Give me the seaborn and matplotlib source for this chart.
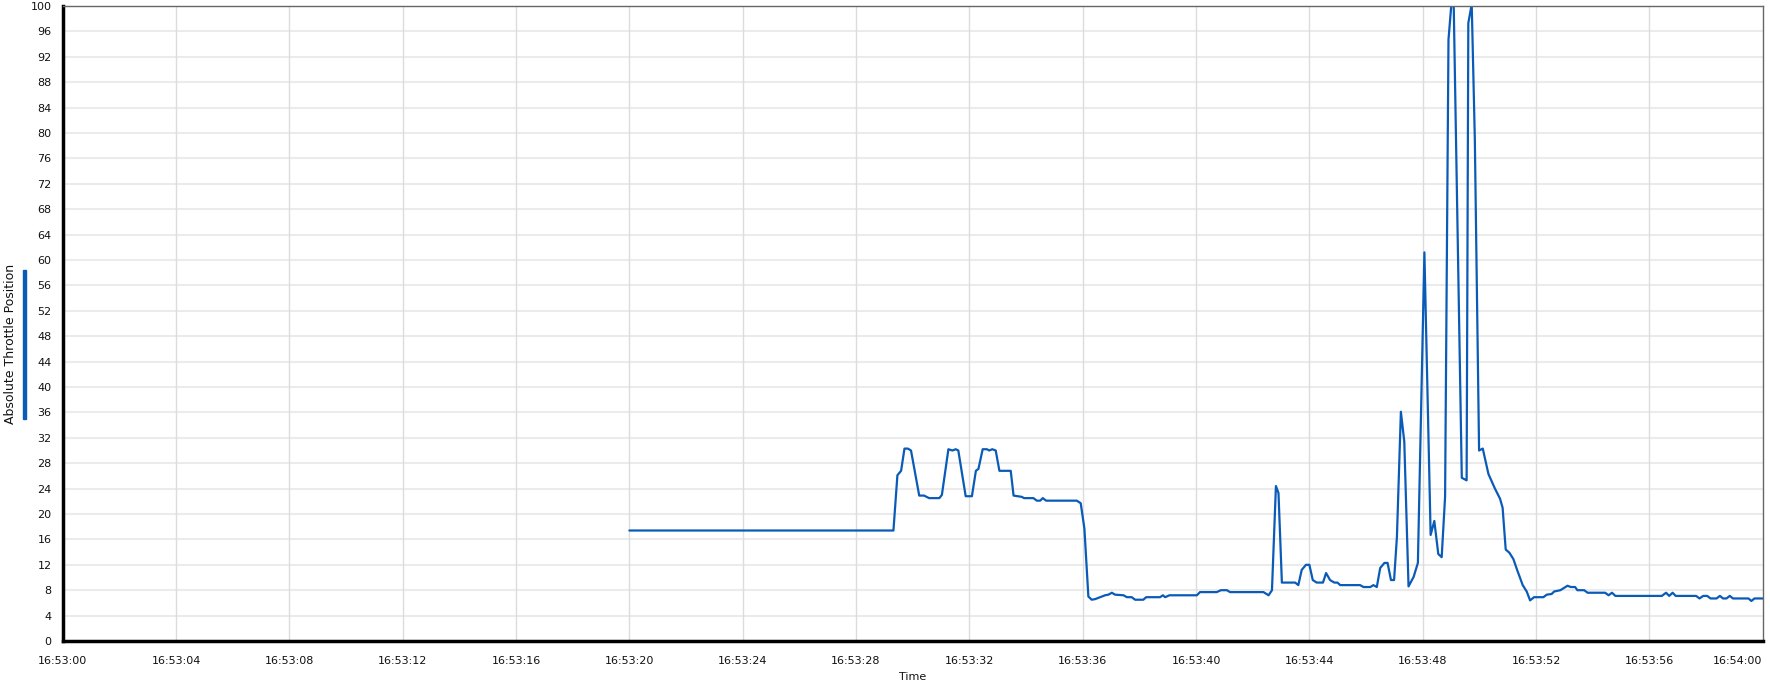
import matplotlib
matplotlib.use("Agg")
import matplotlib.pyplot as plt
import seaborn as sns
import pandas as pd
from matplotlib.patches import Rectangle

# ---- data (seconds after 16:53:00, throttle %) ----
seconds = [
    20.00, 29.32, 29.46, 29.59, 29.71, 29.83, 29.94, 30.23, 30.40, 30.58, 30.94, 31.03,
    31.26, 31.40, 31.52, 31.61, 31.87, 32.09, 32.23, 32.32, 32.47, 32.62, 32.70, 32.81,
    32.93, 33.06, 33.46, 33.56, 33.85, 33.93, 34.26, 34.38, 34.50, 34.59, 34.71, 35.79,
    35.93, 36.06, 36.20, 36.32, 36.44, 36.61, 36.79, 36.91, 37.03, 37.14, 37.44, 37.56,
    37.73, 37.85, 38.14, 38.24, 38.73, 38.83, 38.91, 39.06, 40.03, 40.14, 40.73, 40.88,
    41.09, 41.20, 42.38, 42.56, 42.68, 42.82, 42.91, 43.03, 43.50, 43.61, 43.73, 43.88,
    44.00, 44.12, 44.26, 44.48, 44.59, 44.73, 44.88, 44.99, 45.09, 45.79, 45.91, 46.15,
    46.26, 46.38, 46.50, 46.65, 46.76, 46.88, 46.99, 47.09, 47.23, 47.35, 47.50, 47.68,
    47.83, 48.06, 48.28, 48.41, 48.55, 48.67, 48.79, 48.91, 49.08, 49.38, 49.55, 49.61,
    49.73, 49.84, 49.99, 50.12, 50.32, 50.55, 50.73, 50.82, 50.93, 51.06, 51.20, 51.34,
    51.53, 51.67, 51.79, 51.93, 52.26, 52.38, 52.55, 52.64, 52.86, 53.11, 53.23, 53.38,
    53.46, 53.70, 53.82, 54.44, 54.56, 54.68, 54.80, 56.44, 56.59, 56.70, 56.82, 56.93,
    57.65, 57.77, 57.90, 58.04, 58.16, 58.37, 58.49, 58.60, 58.72, 58.84, 58.95, 59.50,
    59.60, 59.71, 60.00,
]
throttle = [
    17.4, 17.4, 26.1, 26.8, 30.3, 30.3, 30.0, 22.9, 22.9, 22.5, 22.5, 23.0,
    30.2, 30.0, 30.2, 30.0, 22.8, 22.8, 26.8, 27.1, 30.2, 30.2, 30.0, 30.2,
    30.0, 26.8, 26.8, 22.9, 22.7, 22.5, 22.5, 22.1, 22.1, 22.5, 22.1, 22.1,
    21.7, 17.7, 7.0, 6.5, 6.6, 6.9, 7.2, 7.3, 7.6, 7.3, 7.2, 6.9,
    6.9, 6.5, 6.5, 6.9, 6.9, 7.2, 6.9, 7.2, 7.2, 7.7, 7.7, 8.0,
    8.0, 7.7, 7.7, 7.2, 8.0, 24.4, 23.3, 9.2, 9.2, 8.8, 11.2, 12.0,
    12.0, 9.6, 9.2, 9.2, 10.7, 9.6, 9.2, 9.2, 8.8, 8.8, 8.5, 8.5,
    8.8, 8.5, 11.5, 12.3, 12.3, 9.6, 9.6, 16.4, 36.1, 31.4, 8.6, 10.1,
    12.3, 61.2, 16.7, 18.9, 13.7, 13.2, 22.7, 94.7, 104.0, 25.7, 25.3, 97.3,
    100.3, 79.0, 30.0, 30.3, 26.3, 24.0, 22.4, 21.0, 14.4, 13.9, 12.9, 11.1,
    8.8, 7.8, 6.4, 6.9, 6.9, 7.3, 7.4, 7.8, 8.0, 8.7, 8.5, 8.5,
    8.0, 8.0, 7.6, 7.6, 7.2, 7.6, 7.1, 7.1, 7.6, 7.1, 7.6, 7.1,
    7.1, 6.7, 7.1, 7.1, 6.7, 6.7, 7.1, 6.7, 6.7, 7.1, 6.7, 6.7,
    6.3, 6.7, 6.7,
]
xtick_pos = [0, 4, 8, 12, 16, 20, 24, 28, 32, 36, 40, 44, 48, 52, 56, 60]
xtick_labels = ["16:53:00", "16:53:04", "16:53:08", "16:53:12", "16:53:16", "16:53:20",
                "16:53:24", "16:53:28", "16:53:32", "16:53:36", "16:53:40", "16:53:44",
                "16:53:48", "16:53:52", "16:53:56", "16:54:00"]
ytick_pos = [0, 4, 8, 12, 16, 20, 24, 28, 32, 36, 40, 44, 48, 52, 56, 60, 64, 68, 72,
             76, 80, 84, 88, 92, 96, 100]
x_title = "Time"
y_title = "Absolute Throttle Position"

LINE = "#0a5bb8"

sns.set_style("white")
plt.rcParams["font.family"] = ["DejaVu Sans"]

df = pd.DataFrame({"t": seconds, "v": throttle})

fig = plt.figure(figsize=(17.70, 6.88), dpi=100)
ax = fig.add_axes([62.7 / 1770, 47 / 688, 1700 / 1770, 635 / 688])

sns.lineplot(data=df, x="t", y="v", ax=ax, color=LINE, linewidth=1.6, sort=False)

ax.set_xlim(0, 60)
ax.set_ylim(0, 100)
ax.set_xticks(xtick_pos, xtick_labels)
ax.set_yticks(ytick_pos, [str(v) for v in ytick_pos])
ax.get_xticklabels()[-1].set_horizontalalignment("right")

# grid
for y in ytick_pos[1:-1]:
    ax.axhline(y, color="#ebebeb", lw=1.5, zorder=0)
for x in xtick_pos[1:-1]:
    ax.axvline(x, color="#dcdcdc", lw=1.0, zorder=0)

ax.tick_params(axis="both", direction="out", length=5, width=2, color="black",
               labelsize=8, pad=3, labelcolor="#111111")
ax.tick_params(axis="x", pad=6)

for side in ["left", "bottom"]:
    ax.spines[side].set_color("black")
    ax.spines[side].set_linewidth(2.5)
for side in ["top", "right"]:
    ax.spines[side].set_color("#666666")
    ax.spines[side].set_linewidth(1.0)
    ax.spines[side].set_visible(True)

ax.set_xlabel("")
ax.set_ylabel("")
fig.text((62.7 + 1700 / 2) / 1770, 1 - 677 / 688, x_title, ha="center", va="center",
         fontsize=8, color="#111111")
fig.text(10.5 / 1770, 1 - 344 / 688, y_title, ha="center", va="center", rotation=90,
         fontsize=9, color="#111111")
fig.patches.append(Rectangle((23 / 1770, 1 - 419 / 688), 3 / 1770, 149 / 688,
                             transform=fig.transFigure, color=LINE, zorder=5))

fig.savefig("out.png", dpi=100)
